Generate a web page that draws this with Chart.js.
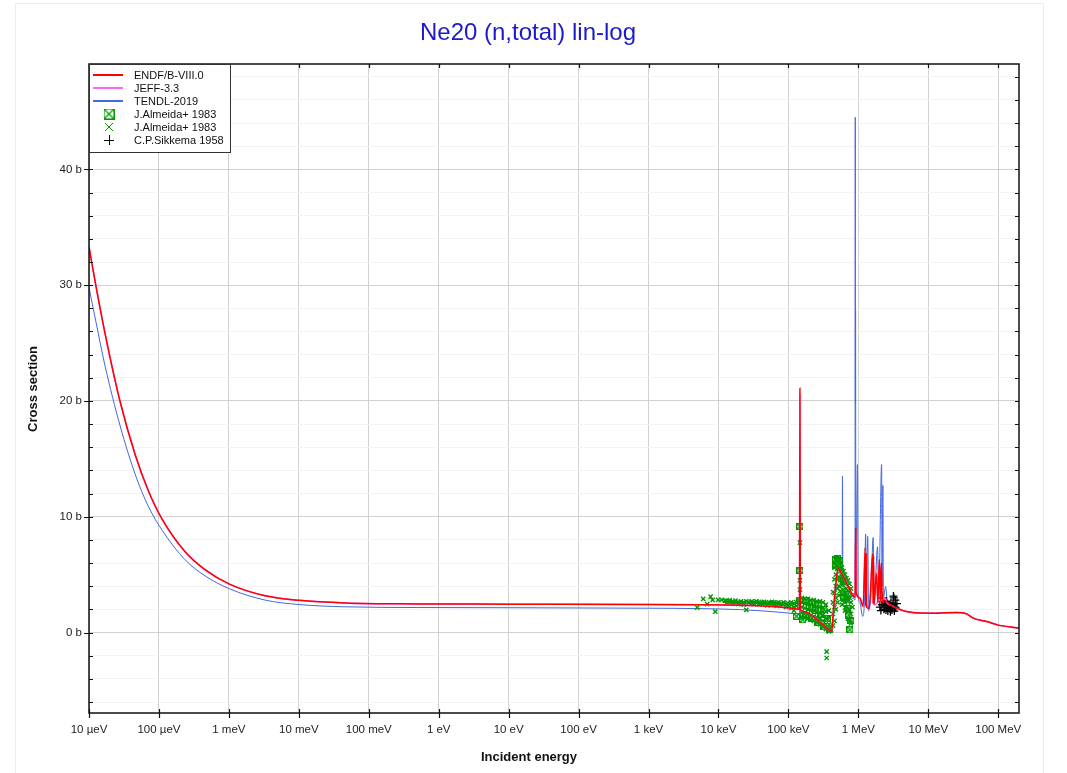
<!DOCTYPE html>
<html>
<head>
<meta charset="utf-8">
<title>Ne20 (n,total) lin-log</title>
<script src="https://cdn.jsdelivr.net/npm/chart.js@4.4.1/dist/chart.umd.min.js"></script>
<style>
  html, body { margin: 0; padding: 0; background: #fff; }
  #wrap { position: relative; width: 1067px; height: 773px; }
</style>
</head>
<body>
<div id="wrap"><canvas id="xsChart" width="1067" height="773"></canvas></div>
<script>
const FONT = '"Liberation Sans", Arial, Helvetica, sans-serif';

// Axis ticks
const xTickValues = [1e-5, 1e-4, 1e-3, 1e-2, 1e-1, 1, 10, 100, 1e3, 1e4, 1e5, 1e6, 1e7, 1e8];
const xTickLabels = ['10 µeV', '100 µeV', '1 meV', '10 meV', '100 meV', '1 eV', '10 eV', '100 eV',
                     '1 keV', '10 keV', '100 keV', '1 MeV', '10 MeV', '100 MeV'];
const yTickValues = [-6, -4, -2, 0, 2, 4, 6, 8, 10, 12, 14, 16, 18, 20, 22, 24, 26, 28, 30,
                     32, 34, 36, 38, 40, 42, 44, 46, 48];

// ENDF/B-VIII.0 (energy in eV, cross section in b)
const endfE = [1e-5, 1.25e-5, 1.7e-5, 2.77e-5, 4.55e-5, 7.05e-5, 1.12e-4, 2.35e-4, 4.55e-4, 1e-3,
  3.3e-3, 1e-2, 4.6e-2, 0.5, 10, 1e3, 5e3, 2e4, 6e4, 1e5, 1.44e5, 1.46e5, 1.48e5, 1.72e5, 2.26e5,
  3.14e5, 3.92e5, 4.15e5, 4.37e5, 4.89e5, 5.15e5, 5.76e5, 6.79e5, 8.0e5, 8.63e5, 9.0e5, 9.14e5,
  9.27e5, 1.05e6, 1.17e6, 1.25e6, 1.27e6, 1.29e6, 1.31e6, 1.38e6, 1.46e6, 1.6e6, 1.62e6, 1.65e6,
  1.67e6, 1.81e6, 1.9e6, 2.0e6, 2.07e6, 2.13e6, 2.21e6, 2.32e6, 2.83e6, 3.15e6, 4.9e6, 9.45e6,
  2.53e7, 3.52e7, 4.39e7, 6.8e7, 1e8, 1.98e8];
const endfXS = [33.3, 30.0, 25.8, 20.0, 15.4, 12.25, 9.75, 7.0, 5.43, 4.2,
  3.17, 2.78, 2.55, 2.47, 2.45, 2.42, 2.4, 2.36, 2.25, 2.13, 2.02, 21.1, 1.96, 1.8, 1.38,
  0.66, 0.17, 0.09, 1.7, 4.8, 5.55, 5.1, 4.26, 3.4, 3.1, 3.05, 9.0,
  3.5, 2.97, 2.24, 7.3, 2.3, 6.8, 2.2, 2.1, 2.6, 6.8, 2.5, 6.6,
  2.4, 5.1, 2.6, 6.3, 2.7, 6.0, 2.6, 2.8, 2.4, 2.24, 1.81, 1.67,
  1.72, 1.61, 1.24, 0.95, 0.64, 0.38];

// JEFF-3.3
const jeffE = [1e-5, 1.25e-5, 1.7e-5, 2.77e-5, 4.55e-5, 7.05e-5, 1.12e-4, 2.35e-4, 4.55e-4, 1e-3,
  3.3e-3, 1e-2, 4.6e-2, 0.5, 10, 1e3, 5e3, 2e4, 6e4, 1e5, 1.44e5, 1.46e5, 1.48e5, 1.72e5, 2.26e5,
  3.14e5, 3.92e5, 4.15e5, 4.37e5, 4.89e5, 5.15e5, 5.76e5, 6.79e5, 8.0e5, 9.0e5, 9.14e5, 9.27e5,
  1.05e6, 1.17e6, 1.27e6, 1.31e6, 1.46e6, 1.63e6, 1.67e6, 1.9e6, 2.0e6, 2.07e6, 2.32e6, 2.45e6,
  2.6e6, 2.83e6, 3.15e6, 4.9e6, 9.45e6, 2.53e7, 3.52e7, 4.39e7, 6.8e7, 1e8, 1.98e8];
const jeffXS = [33.3, 30.0, 25.8, 20.0, 15.4, 12.25, 9.75, 7.0, 5.43, 4.2,
  3.17, 2.78, 2.55, 2.47, 2.45, 2.42, 2.4, 2.36, 2.25, 2.13, 2.02, 20.5, 1.96, 1.8, 1.38,
  0.66, 0.17, 0.09, 1.7, 4.8, 5.55, 5.1, 4.26, 3.4, 3.05, 8.6, 3.5,
  2.97, 2.3, 7.0, 2.3, 2.6, 6.5, 2.4, 2.6, 6.0, 2.7, 3.0, 2.9,
  2.5, 2.4, 2.24, 1.81, 1.67, 1.72, 1.61, 1.24, 0.95, 0.64, 0.38];

// TENDL-2019
const tendlE = [1e-5, 1.25e-5, 1.7e-5, 2.77e-5, 4.55e-5, 7.05e-5, 1.12e-4, 2.35e-4, 4.55e-4, 1e-3,
  3.3e-3, 1e-2, 4.6e-2, 0.5, 10, 1e3, 5e3, 2e4, 6e4, 1e5, 1.44e5, 1.46e5, 1.48e5, 2.26e5, 3.14e5,
  3.92e5, 4.15e5, 4.37e5, 4.89e5, 5.15e5, 5.76e5, 5.85e5, 5.93e5, 6.0e5, 6.43e5, 7.57e5, 8.63e5,
  8.95e5, 9.03e5, 9.08e5, 9.12e5, 9.2e5, 9.7e5, 9.8e5, 9.9e5, 1.05e6, 1.15e6, 1.22e6, 1.27e6,
  1.30e6, 1.36e6, 1.40e6, 1.5e6, 1.63e6, 1.68e6, 1.88e6, 1.95e6, 2.15e6, 2.18e6, 2.24e6, 2.28e6,
  2.45e6, 2.6e6, 2.83e6, 3.15e6, 4.9e6, 9.45e6, 2.53e7, 3.52e7, 4.39e7, 6.8e7, 1e8, 1.98e8];
const tendlXS = [29.8, 26.9, 23.0, 17.9, 13.7, 10.9, 8.8, 6.3, 4.9, 3.8,
  2.8, 2.42, 2.22, 2.16, 2.14, 2.1, 2.07, 1.98, 1.8, 1.68, 1.6, 1.95, 1.55, 1.1, 0.52,
  0.09, 0.05, 1.2, 4.5, 5.4, 4.8, 4.7, 13.5, 4.5, 3.97, 3.1, 2.9,
  2.8, 44.5, 19.8, 27.8, 3.2, 14.5, 10.6, 3.5, 2.6, 1.4, 2.6, 8.5,
  2.4, 8.3, 1.9, 3.0, 8.2, 2.5, 7.4, 2.6, 14.5, 4.0, 12.7, 3.0,
  3.97, 2.6, 2.4, 2.24, 1.81, 1.67, 1.72, 1.61, 1.24, 0.95, 0.64, 0.38];

// J.Almeida+ 1983 (boxed cross markers)
const almeidaBoxE = [1.3e5, 1.46e5, 1.46e5, 1.46e5, 1.6e5, 1.78e5, 1.78e5, 2.0e5, 2.17e5, 2.17e5,
  2.4e5, 2.64e5, 2.64e5, 2.9e5, 3.22e5, 3.22e5, 3.6e5, 3.92e5, 4.77e5, 4.77e5, 5.1e5, 5.1e5,
  5.45e5, 5.45e5, 6.21e5, 6.21e5, 7.09e5, 7.09e5, 7.33e5, 7.57e5, 7.83e5];
const almeidaBoxXS = [1.4, 9.15, 5.35, 2.8, 1.1, 2.8, 1.5, 2.2, 2.6, 1.2,
  1.9, 2.4, 0.9, 1.6, 2.0, 0.5, 1.2, 0.3, 6.3, 5.8, 6.4, 6.1,
  6.2, 5.9, 4.5, 3.0, 3.3, 2.1, 1.5, 0.23, 1.0];

// J.Almeida+ 1983 (cross markers)
const almeidaE = [4.97e3, 6.05e3, 6.9e3, 7.72e3, 8.25e3, 8.99e3, 9.91e3, 1.11e4, 1.24e4,
  1.3e4, 1.3e4, 1.45e4, 1.45e4, 1.6e4, 1.6e4, 1.75e4, 1.75e4, 1.9e4, 1.9e4, 2.1e4, 2.1e4,
  2.3e4, 2.3e4, 2.5e4, 2.5e4, 2.7e4, 2.7e4, 3.0e4, 3.0e4, 3.2e4, 3.2e4, 3.5e4, 3.5e4,
  3.8e4, 3.8e4, 4.2e4, 4.2e4, 4.5e4, 4.5e4, 5.0e4, 5.0e4, 5.3e4, 5.3e4, 5.8e4, 5.8e4,
  6.2e4, 6.2e4, 6.8e4, 6.8e4, 7.2e4, 7.2e4, 7.9e4, 7.9e4, 8.5e4, 8.5e4, 9.3e4, 9.3e4,
  9.8e4, 9.8e4, 1.1e5, 1.1e5, 1.1e5, 1.2e5, 1.2e5, 1.2e5, 1.3e5, 1.3e5, 1.4e5, 1.4e5, 1.4e5,
  1.46e5, 1.46e5, 1.46e5,
  1.56e5, 1.56e5, 1.56e5, 1.56e5, 1.56e5, 1.72e5, 1.72e5, 1.72e5, 1.72e5, 1.72e5,
  1.9e5, 1.9e5, 1.9e5, 1.9e5, 1.9e5, 2.09e5, 2.09e5, 2.09e5, 2.09e5, 2.09e5,
  2.31e5, 2.31e5, 2.31e5, 2.31e5, 2.31e5, 2.55e5, 2.55e5, 2.55e5, 2.55e5, 2.55e5,
  2.82e5, 2.82e5, 2.82e5, 2.82e5, 2.82e5, 3.11e5, 3.11e5, 3.11e5, 3.11e5, 3.11e5,
  3.44e5, 3.44e5, 3.44e5, 3.44e5, 3.52e5, 3.52e5, 3.79e5, 3.79e5, 3.79e5, 3.79e5,
  4.05e5, 4.05e5, 4.33e5, 4.33e5, 4.33e5, 4.33e5, 4.55e5, 4.55e5, 4.55e5, 4.55e5, 4.55e5,
  4.77e5, 4.77e5, 4.77e5, 4.77e5, 4.77e5, 5.02e5, 5.02e5, 5.02e5, 5.02e5, 5.02e5,
  5.27e5, 5.27e5, 5.27e5, 5.27e5, 5.27e5, 5.54e5, 5.54e5, 5.54e5, 5.54e5,
  5.82e5, 5.82e5, 5.82e5, 5.82e5, 5.82e5, 6.12e5, 6.12e5, 6.12e5, 6.12e5,
  6.43e5, 6.43e5, 6.43e5, 6.43e5, 6.43e5, 6.75e5, 6.75e5, 6.75e5, 6.75e5,
  7.09e5, 7.09e5, 7.09e5, 7.09e5, 7.09e5, 7.45e5, 7.45e5, 7.45e5, 7.45e5,
  7.83e5, 7.83e5, 7.83e5, 7.83e5, 8.22e5, 8.22e5];
const almeidaXS = [2.16, 2.91, 2.45, 3.11, 2.82, 1.81, 2.82, 2.82, 2.74,
  2.75, 2.55, 2.6, 2.8, 2.7, 2.5, 2.55, 2.75, 2.65, 2.45, 2.7, 2.5,
  2.6, 2.4, 2.7, 1.96, 2.55, 2.65, 2.5, 2.7, 2.6, 2.45, 2.55, 2.7,
  2.45, 2.65, 2.6, 2.4, 2.5, 2.65, 2.55, 2.35, 2.6, 2.45, 2.5, 2.65,
  2.4, 2.6, 2.55, 2.3, 2.45, 2.6, 2.5, 2.3, 2.6, 2.4, 2.45, 2.2,
  2.55, 2.35, 2.4, 2.6, 2.1, 2.5, 2.2, 1.9, 2.6, 2.3, 2.8, 2.4, 2.1,
  7.77, 3.7, 4.5,
  3.0, 2.6, 2.2, 1.7, 1.3, 2.9, 2.5, 2.1, 1.7, 1.3,
  2.9, 2.5, 2.0, 1.6, 1.2, 2.8, 2.4, 1.9, 1.5, 1.1,
  2.8, 2.3, 1.9, 1.4, 1.0, 2.7, 2.2, 1.8, 1.3, 0.9,
  2.7, 2.2, 1.7, 1.2, 0.7, 2.6, 2.1, 1.5, 1.0, 0.5,
  2.4, 1.8, 1.2, 0.3, -1.64, -2.2, 1.9, 1.3, 0.7, 0.1,
  0.5, 0.2, 0.6, 1.6, 2.6, 3.5, 1.0, 2.2, 3.4, 4.6, 5.6,
  5.0, 6.0, 4.0, 3.0, 2.0, 6.3, 5.5, 4.6, 3.8, 2.6,
  6.2, 5.6, 4.8, 4.0, 3.2, 6.0, 5.3, 4.5, 3.6,
  5.6, 4.9, 4.1, 3.3, 2.4, 5.3, 4.5, 3.7, 2.8,
  5.0, 4.2, 3.4, 2.6, 1.9, 4.7, 3.8, 3.0, 2.2,
  4.5, 3.6, 2.7, 1.8, 1.2, 4.2, 3.0, 2.0, 1.1,
  3.8, 2.6, 1.6, 0.8, 3.2, 2.2];

// C.P.Sikkema 1958
const sikkemaE = [2.03e6, 2.10e6, 2.17e6, 2.20e6, 2.24e6, 2.32e6, 2.40e6, 2.48e6, 2.52e6, 2.56e6,
  2.60e6, 2.64e6, 2.73e6, 2.83e6, 2.87e6, 2.92e6, 3.02e6, 3.07e6, 3.12e6, 3.17e6, 3.22e6,
  3.27e6, 3.33e6, 3.38e6, 3.44e6, 3.56e6];
const sikkemaXS = [2.2, 1.9, 2.4, 3.0, 2.65, 2.0, 2.3, 1.95, 2.7, 2.5,
  2.15, 1.85, 2.3, 2.05, 1.8, 2.55, 1.95, 2.2, 2.4, 3.15, 3.0,
  1.85, 2.2, 2.8, 2.1, 2.5];

const RED = '#ff0000', PINK = '#ff66ff', BLUE = '#4169e1', GREEN = '#009900';

function pts(E, S) {
    return E.map((e, i) => ({ x: e, y: S[i] }));
}

// square with an X inside, used for the first Almeida set
function boxCross(size) {
    const cv = document.createElement('canvas');
    cv.width = size; cv.height = size;
    const g = cv.getContext('2d');
    g.strokeStyle = GREEN;
    g.lineWidth = 1.2;
    g.strokeRect(0.5, 0.5, size - 1, size - 1);
    g.beginPath();
    g.moveTo(1, 1); g.lineTo(size - 1, size - 1);
    g.moveTo(size - 1, 1); g.lineTo(1, size - 1);
    g.stroke();
    return cv;
}
const boxMarker = boxCross(7);
const boxLegend = boxCross(11);

const framePlugin = {
    id: 'frame',
    beforeDraw(chart) {
        const c = chart.ctx;
        c.save();
        c.fillStyle = '#fff';
        c.fillRect(0, 0, chart.width, chart.height);
        c.strokeStyle = '#ececec';
        c.lineWidth = 1;
        c.strokeRect(15.5, 3.5, 1028, 800);
        c.restore();
    },
    afterDraw(chart) {
        const c = chart.ctx, a = chart.chartArea;
        const xs = chart.scales.x, ys = chart.scales.y;
        c.save();

        // plot frame
        c.strokeStyle = '#111';
        c.lineWidth = 1.5;
        c.strokeRect(a.left, a.top, a.right - a.left, a.bottom - a.top);

        // tick marks
        c.lineWidth = 1.2;
        c.beginPath();
        xTickValues.forEach(v => {
            const px = Math.round(xs.getPixelForValue(v)) + 0.5;
            c.moveTo(px, a.bottom - 4); c.lineTo(px, a.bottom + 5);
            c.moveTo(px, a.top); c.lineTo(px, a.top + 4);
        });
        yTickValues.forEach(v => {
            const py = Math.round(ys.getPixelForValue(v)) + 0.5;
            const major = v % 10 === 0;
            c.moveTo(major ? a.left - 5 : a.left, py); c.lineTo(a.left + 4, py);
            c.moveTo(a.right - 4, py); c.lineTo(a.right, py);
        });
        c.stroke();

        // title
        c.fillStyle = '#1a1acc';
        c.font = '24px ' + FONT;
        c.textAlign = 'center';
        c.textBaseline = 'middle';
        c.fillText('Ne20 (n,total) lin-log', 528, 33);

        // axis titles
        c.fillStyle = '#111';
        c.font = 'bold 13px ' + FONT;
        c.fillText('Incident energy', 529, 757);
        c.save();
        c.translate(33, 389);
        c.rotate(-Math.PI / 2);
        c.fillText('Cross section', 0, 0);
        c.restore();

        // legend
        const lx = a.left, ly = a.top, lw = 141, lh = 88;
        c.fillStyle = '#fff';
        c.fillRect(lx, ly, lw, lh);
        c.strokeStyle = '#333';
        c.lineWidth = 1;
        c.strokeRect(lx + 0.5, ly + 0.5, lw, lh);
        const rows = [
            { label: 'ENDF/B-VIII.0', kind: 'line', color: RED },
            { label: 'JEFF-3.3', kind: 'line', color: PINK },
            { label: 'TENDL-2019', kind: 'line', color: BLUE },
            { label: 'J.Almeida+ 1983', kind: 'box' },
            { label: 'J.Almeida+ 1983', kind: 'x' },
            { label: 'C.P.Sikkema 1958', kind: 'plus' }
        ];
        c.font = '11px ' + FONT;
        c.textAlign = 'left';
        rows.forEach((r, i) => {
            const y = ly + 11 + i * 13;
            const mx = lx + 20;
            if (r.kind === 'line') {
                c.strokeStyle = r.color;
                c.lineWidth = 2;
                c.beginPath();
                c.moveTo(lx + 4, y); c.lineTo(lx + 34, y);
                c.stroke();
            } else if (r.kind === 'box') {
                c.drawImage(boxLegend, mx - 5.5, y - 5.5);
            } else if (r.kind === 'x') {
                c.strokeStyle = GREEN;
                c.lineWidth = 1;
                c.beginPath();
                c.moveTo(mx - 4, y - 4); c.lineTo(mx + 4, y + 4);
                c.moveTo(mx + 4, y - 4); c.lineTo(mx - 4, y + 4);
                c.stroke();
            } else {
                c.strokeStyle = '#000';
                c.lineWidth = 1;
                c.beginPath();
                c.moveTo(mx - 5, y + 0.5); c.lineTo(mx + 5, y + 0.5);
                c.moveTo(mx + 0.5, y - 5); c.lineTo(mx + 0.5, y + 5);
                c.stroke();
            }
            c.fillStyle = '#111';
            c.fillText(r.label, lx + 45, y + 0.5);
        });
        c.restore();
    }
};

const ctx = document.getElementById('xsChart').getContext('2d');
new Chart(ctx, {
    type: 'line',
    data: {
        datasets: [
            { label: 'ENDF/B-VIII.0', data: pts(endfE, endfXS), borderColor: RED, borderWidth: 1.5,
              pointRadius: 0, cubicInterpolationMode: 'monotone', order: 0 },
            { label: 'JEFF-3.3', data: pts(jeffE, jeffXS), borderColor: PINK, borderWidth: 1.5,
              pointRadius: 0, cubicInterpolationMode: 'monotone', order: 1 },
            { label: 'J.Almeida+ 1983', data: pts(almeidaBoxE, almeidaBoxXS), showLine: false,
              pointStyle: boxMarker, pointRadius: 3.5, order: 2 },
            { label: 'J.Almeida+ 1983', data: pts(almeidaE, almeidaXS), showLine: false,
              pointStyle: 'crossRot', pointRadius: 3, borderColor: GREEN, pointBorderWidth: 1.4, order: 3 },
            { label: 'C.P.Sikkema 1958', data: pts(sikkemaE, sikkemaXS), showLine: false,
              pointStyle: 'cross', pointRadius: 4, borderColor: '#000', pointBorderWidth: 1.3, order: 4 },
            { label: 'TENDL-2019', data: pts(tendlE, tendlXS), borderColor: BLUE, borderWidth: 1,
              pointRadius: 0, cubicInterpolationMode: 'monotone', order: 5 }
        ]
    },
    options: {
        responsive: false,
        animation: false,
        events: [],
        layout: { padding: { left: 0, right: 48, top: 64, bottom: 0 } },
        plugins: {
            legend: { display: false },
            title: { display: false },
            tooltip: { enabled: false }
        },
        scales: {
            x: {
                type: 'logarithmic',
                min: 1e-5,
                max: 1.98e8,
                afterBuildTicks: s => { s.ticks = xTickValues.map(v => ({ value: v })); },
                afterFit: s => { s.height = 60; },
                ticks: {
                    callback: (v, i) => xTickLabels[i],
                    autoSkip: false,
                    maxRotation: 0,
                    padding: 10,
                    color: '#222',
                    font: { family: FONT, size: 11.5 }
                },
                grid: { color: '#d2d2d2', lineWidth: 1, drawTicks: false },
                border: { display: false }
            },
            y: {
                type: 'linear',
                min: -6.95,
                max: 49.1,
                afterBuildTicks: s => { s.ticks = yTickValues.map(v => ({ value: v })); },
                afterFit: s => { s.width = 89; },
                ticks: {
                    callback: v => (v % 10 === 0 ? v + ' b' : ''),
                    autoSkip: false,
                    padding: 7,
                    color: '#222',
                    font: { family: FONT, size: 11.5 }
                },
                grid: {
                    color: c => (c.tick && c.tick.value % 10 === 0 ? '#d2d2d2' : '#f3f3f3'),
                    lineWidth: 1,
                    drawTicks: false
                },
                border: { display: false }
            }
        }
    },
    plugins: [framePlugin]
});
</script>
</body>
</html>
